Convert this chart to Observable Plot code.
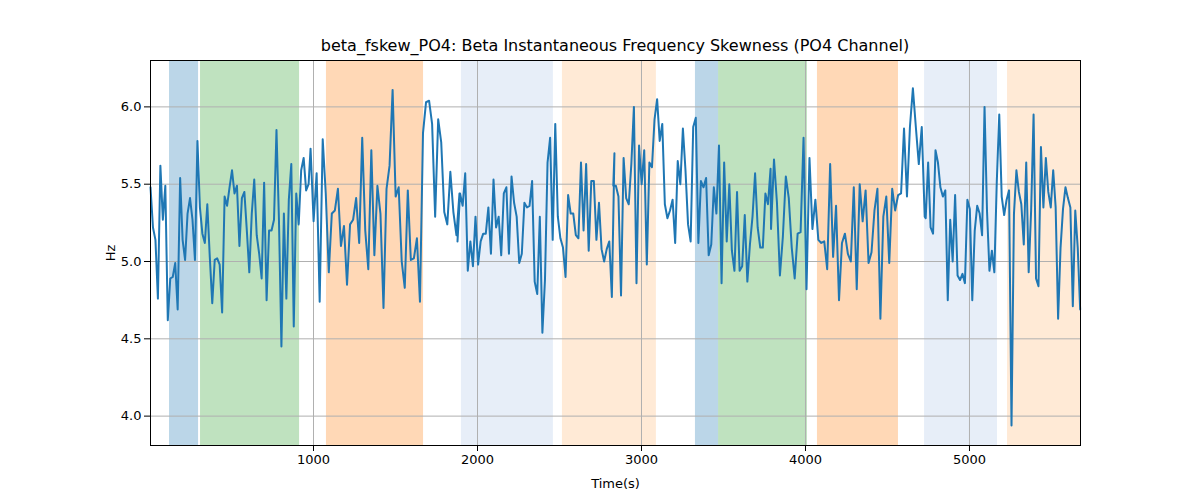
<!DOCTYPE html>
<html><head><meta charset="utf-8">
<script src="https://cdn.jsdelivr.net/npm/d3@7"></script>
<script src="https://cdn.jsdelivr.net/npm/@observablehq/plot@0.6"></script>
<style>body{margin:0;background:#fff;font-family:"DejaVu Sans",sans-serif}#t{height:50px;padding-top:36px;box-sizing:border-box;line-height:20px;text-align:center;font-size:16px;padding-left:30px}</style>
</head><body><div id="t">beta_fskew_PO4: Beta Instantaneous Frequency Skewness (PO4 Channel)</div><div id="c"></div>
<script>
const segTimes = [[6,970],[982,1890],[1878,2835],[2828,3787],[3790,4727],[4733,5675]];
const seg1 = [5.48,5.22,5.14,4.76,5.62,5.27,5.49,4.62,4.89,4.9,4.99,4.69,5.54,5.14,5.01,5.31,5.41,5.27,5.01,5.78,5.35,5.18,5.12,5.37,5.03,4.73,5.01,5.02,4.98,4.67,5.42,5.36,5.48,5.59,5.44,5.49,5.1,5.41,5.45,5.2,4.93,5.31,5.53,5.17,5.05,4.89,5.51,4.75,5.2,5.2,5.27,5.85,5.27,4.45,5.31,4.76,5.4,5.63,4.58,5.44,5.24,5.59,5.67,5.46,5.5];
const seg2 = [5.73,5.26,5.57,4.74,5.79,5.44,4.93,5.31,5.33,5.47,5.1,5.23,4.85,5.24,5.27,5.41,5.12,5.8,5.2,4.95,5.72,5.04,5.49,5.31,4.7,5.47,5.62,6.11,5.42,5.48,5.0,4.83,5.46,5.01,5.02,5.15,4.74,5.83,6.03,6.04,5.89,5.29,5.92,5.77,5.32,5.24,5.58,5.32,5.17,5.44];
const seg3 = [5.13,5.44,5.36,5.57,4.94,5.13,4.97,5.29,4.98,5.13,5.18,5.18,5.35,5.05,5.53,5.22,5.29,5.04,5.44,5.48,5.05,5.55,5.38,5.29,4.99,5.05,5.38,5.35,5.36,5.52,4.87,4.79,5.29,4.54,4.88,5.64,5.8,5.14,5.89,5.29,5.15,5.09,4.9,5.43,5.31,5.31,5.17,5.15,5.64,5.2,5.63,5.07,5.52,5.52,5.14,5.38,5.08,5.0,5.08,5.13,4.77,5.7];
const seg4 = [5.49,5.49,5.42,4.78,5.67,5.41,5.37,5.63,6.0,4.86,5.75,5.5,5.72,4.98,5.64,5.61,5.92,6.05,5.78,5.89,5.37,5.28,5.33,5.4,5.12,5.65,5.5,5.86,5.59,5.24,5.13,5.87,5.93,5.12,5.52,5.48,5.54,5.04,5.11,5.48,5.31,5.75,4.86,5.64,5.13,5.5,5.07,4.94,5.45,4.94,4.97,5.3,4.87,5.11,5.29,5.57,5.22,5.09,5.09,5.44,5.37,5.6];
const seg5 = [5.21,5.66,5.38,4.91,5.16,5.55,5.41,5.09,4.89,5.18,5.19,5.8,4.82,5.67,5.21,5.4,5.14,5.12,5.13,4.95,5.63,5.03,5.36,4.75,5.12,5.18,5.05,5.0,5.48,4.82,5.5,5.26,5.46,4.99,5.06,5.33,5.47,4.63,5.29,5.42,4.99,5.47,5.33,5.43,5.44,5.86,5.42,5.87,6.12,5.87,5.63,5.87,5.29];
const seg6 = [5.28,5.64,5.22,5.18,5.72,5.64,5.48,5.42,5.46,4.75,5.27,5.0,5.43,4.91,4.88,4.92,4.86,5.4,5.34,4.75,5.2,5.36,5.31,5.17,6.0,5.33,4.94,5.07,4.93,5.52,5.95,5.42,5.3,5.4,5.46,3.94,5.31,5.59,5.45,5.37,5.11,5.64,4.93,5.33,5.95,4.89,4.84,5.74,5.35,5.67,5.45,5.35,5.59,5.35,4.63,5.09,5.34,5.48,5.41,5.35,4.71,5.33,5.09,4.69];
const segValues = [seg1,seg2,seg3,seg4,seg5,seg6];
const bandStart = [122,311,1079,1902,2518,3329,3470,4073,4726,5232];
const bandEnd   = [299,915,1671,2463,3091,3470,4012,4567,5171,5677];
const bandColor = ["#1f77b4","#2ca02c","#ff7f0e","#aec7e8","#ffbb78","#1f77b4","#2ca02c","#ff7f0e","#aec7e8","#ffbb78"];
const bandOpacity = [0.3,0.3,0.3,0.3,0.3,0.3,0.3,0.3,0.3,0.3];
const xTicks = [1000,2000,3000,4000,5000];
const yTicks = [4.0,4.5,5.0,5.5,6.0];

const data = [];
segValues.forEach((vals,s)=>{const [a,b]=segTimes[s];vals.forEach((v,i)=>data.push({t:a+(b-a)*i/(vals.length-1),v}));});
const bands = bandStart.map((s,i)=>({s,e:bandEnd[i],c:bandColor[i],o:bandOpacity[i]}));

const chart = Plot.plot({
  width:1200,height:450,marginLeft:150,marginRight:120,marginTop:10,marginBottom:55,
  style:{fontSize:"13px",fontFamily:"DejaVu Sans",color:"black"},
  x:{domain:[6,5677],ticks:xTicks,tickFormat:d=>String(d),label:"Time(s)",labelAnchor:"center",labelArrow:"none",labelOffset:42},
  y:{domain:[3.81,6.3],ticks:yTicks,tickFormat:d=>d.toFixed(1),label:"Hz",labelAnchor:"center",labelArrow:"none",labelOffset:45},
  marks:[
    Plot.rectY(bands,{x1:"s",x2:"e",y1:3.81,y2:6.3,fill:"c",fillOpacity:"o"}),
    Plot.ruleX(xTicks,{stroke:"#b0b0b0",strokeWidth:1}),
    Plot.ruleY(yTicks,{stroke:"#b0b0b0",strokeWidth:1}),
    Plot.line(data,{x:"t",y:"v",stroke:"#1f77b4",strokeWidth:2}),
    Plot.frame({stroke:"black"})
  ]
});
document.getElementById("c").appendChild(chart);
</script></body></html>
